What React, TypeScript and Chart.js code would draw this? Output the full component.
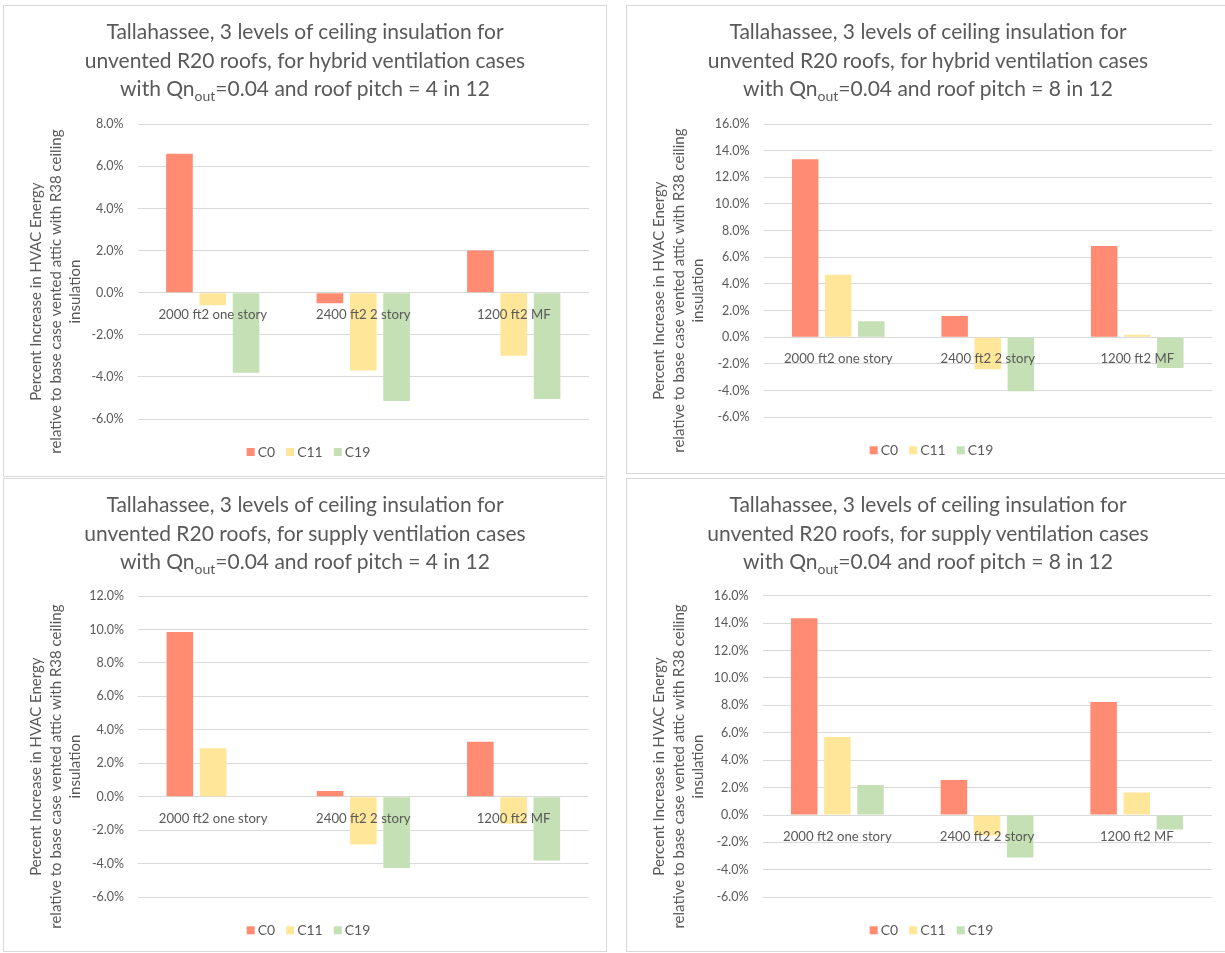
import React, { useEffect, useRef } from "react";
import { Chart, registerables } from "chart.js";

Chart.register(...registerables);

// ---------------- DATA ----------------
const categories = ["2000 ft2 one story", "2400 ft2 2 story", "1200 ft2 MF"];
const seriesNames = ["C0", "C11", "C19"];
const seriesColors = ["#FF8B73", "#FFE699", "#C5E0B4"];

// values in percent
const hybrid4C0 = [6.6, -0.5, 2.0];
const hybrid4C11 = [-0.6, -3.7, -3.0];
const hybrid4C19 = [-3.8, -5.15, -5.05];

const hybrid8C0 = [13.35, 1.6, 6.85];
const hybrid8C11 = [4.7, -2.4, 0.2];
const hybrid8C19 = [1.2, -4.05, -2.3];

const supply4C0 = [9.85, 0.35, 3.3];
const supply4C11 = [2.9, -2.85, -1.6];
const supply4C19 = [0.0, -4.25, -3.8];

const supply8C0 = [14.35, 2.55, 8.25];
const supply8C11 = [5.7, -1.5, 1.65];
const supply8C19 = [2.2, -3.1, -1.05];

const yMins = [-6, -6, -6, -6];
const yMaxs = [8, 16, 12, 16];
const yStep = 2;

const titleLine1 = "Tallahassee, 3 levels of ceiling insulation for";
const titleLine2Hybrid = "unvented R20 roofs, for hybrid ventilation cases";
const titleLine2Supply = "unvented R20 roofs, for supply ventilation cases";
const titleLine3Start = "with Qn";
const titleLine3Sub = "out";
const titleLine3Pitch4 = "=0.04 and roof pitch = 4 in 12";
const titleLine3Pitch8 = "=0.04 and roof pitch = 8 in 12";

const yTitleLines = [
  "Percent Increase in HVAC Energy",
  "relative to base case vented attic with R38 ceiling",
  "insulation",
];

// ---------------- STYLE / LAYOUT ----------------
const TEXT = "#595959";
const GRID = "#D9D9D9";
const FONT = "Lato, 'Open Sans', sans-serif";

type PanelCfg = {
  left: number;
  top: number;
  width: number;
  height: number;
  chartLeft: number;
  padR: number;
  padT: number;
  padB: number;
  line2: string;
  line3: string;
  series: number[][];
  idx: number;
};

const panels: PanelCfg[] = [
  { left: 3, top: 5, width: 604, height: 472, chartLeft: 133.5, padR: 17, padT: 118.3, padB: 57, line2: titleLine2Hybrid, line3: titleLine3Pitch4, series: [hybrid4C0, hybrid4C11, hybrid4C19], idx: 0 },
  { left: 626, top: 5, width: 604, height: 469, chartLeft: 136.5, padR: 17, padT: 118, padB: 55.7, line2: titleLine2Hybrid, line3: titleLine3Pitch8, series: [hybrid8C0, hybrid8C11, hybrid8C19], idx: 1 },
  { left: 3, top: 478, width: 604, height: 474, chartLeft: 134, padR: 17.3, padT: 117, padB: 53.7, line2: titleLine2Supply, line3: titleLine3Pitch4, series: [supply4C0, supply4C11, supply4C19], idx: 2 },
  { left: 626, top: 478, width: 604, height: 474, chartLeft: 135.5, padR: 17.4, padT: 116.7, padB: 53.7, line2: titleLine2Supply, line3: titleLine3Pitch8, series: [supply8C0, supply8C11, supply8C19], idx: 3 },
];

const decorPlugin = {
  id: "excelDecor",
  afterDraw(chart: any) {
    const { ctx, chartArea } = chart;
    ctx.save();
    ctx.fillStyle = TEXT;
    // Y axis title (rotated, 3 lines)
    ctx.font = `15px ${FONT}`;
    ctx.textAlign = "center";
    ctx.textBaseline = "middle";
    const cy = (chartArea.top + chartArea.bottom) / 2 + 20;
    const xs = [32, 52, 71.5];
    yTitleLines.forEach((t, i) => {
      ctx.save();
      ctx.translate(xs[i], cy);
      ctx.rotate(-Math.PI / 2);
      ctx.fillText(t, 0, 0);
      ctx.restore();
    });
    // Legend
    ctx.font = `14px ${FONT}`;
    ctx.textAlign = "left";
    const box = 8;
    const gap = 3;
    const spacing = 11;
    const widths = chart.data.datasets.map((d: any) => box + gap + ctx.measureText(d.label).width);
    const total = widths.reduce((a: number, b: number) => a + b, 0) + spacing * (widths.length - 1);
    let x = chart.width / 2 + 3.5 - total / 2;
    const ly = chartArea.bottom + 33;
    chart.data.datasets.forEach((d: any, i: number) => {
      ctx.fillStyle = d.backgroundColor;
      ctx.fillRect(x, ly - box / 2, box, box);
      ctx.fillStyle = TEXT;
      ctx.fillText(d.label, x + box + gap, ly + 0.5);
      x += widths[i] + spacing;
    });
    ctx.restore();
  },
};

function Panel({ cfg }: { cfg: PanelCfg }) {
  const ref = useRef<HTMLCanvasElement>(null);
  const cw = cfg.width - 2;
  const ch = cfg.height - 2;
  useEffect(() => {
    if (!ref.current) return;
    const chart = new Chart(ref.current, {
      type: "bar",
      data: {
        labels: categories,
        datasets: seriesNames.map((name, i) => ({
          label: name,
          data: cfg.series[i],
          backgroundColor: seriesColors[i],
          borderWidth: 0,
          categoryPercentage: 0.664,
          barPercentage: 0.8,
        })),
      },
      options: {
        animation: false,
        responsive: false,
        devicePixelRatio: 1,
        layout: { padding: { left: 0, right: cfg.padR, top: cfg.padT, bottom: cfg.padB } },
        plugins: {
          legend: { display: false },
          title: { display: false },
          tooltip: { enabled: false },
        },
        scales: {
          x: {
            type: "category",
            position: { y: 0 } as any,
            grid: { display: false, drawTicks: false },
            border: { display: false },
            ticks: {
              color: TEXT,
              font: { family: FONT, size: 13.2 },
              padding: 14,
              z: 1,
              autoSkip: false,
              maxRotation: 0,
            },
          },
          y: {
            min: yMins[cfg.idx],
            max: yMaxs[cfg.idx],
            grid: { color: GRID, lineWidth: 1, drawTicks: false },
            border: { display: false },
            ticks: {
              stepSize: yStep,
              color: TEXT,
              font: { family: FONT, size: 12.5 },
              padding: 14,
              callback: (v: any) => Number(v).toFixed(1) + "%",
            },
            afterFit: (s: any) => {
              s.width = cfg.chartLeft;
            },
          },
        },
      },
      plugins: [decorPlugin],
    });
    (document as any).fonts?.ready?.then(() => chart.update());
    return () => chart.destroy();
  }, []);

  return (
    <div
      style={{
        position: "absolute",
        left: cfg.left,
        top: cfg.top,
        width: cfg.width,
        height: cfg.height,
        boxSizing: "border-box",
        border: `1px solid ${GRID}`,
        background: "#fff",
      }}
    >
      <canvas
        ref={ref}
        width={cw}
        height={ch}
        style={{ position: "absolute", left: 0, top: 0, width: cw, height: ch }}
      />
      <div
        style={{
          position: "absolute",
          left: 0,
          right: 0,
          top: 11,
          textAlign: "center",
          fontFamily: FONT,
          fontSize: 21,
          lineHeight: "28.7px",
          color: TEXT,
          whiteSpace: "nowrap",
        }}
      >
        <div>{titleLine1}</div>
        <div>{cfg.line2}</div>
        <div>
          {titleLine3Start}
          <span style={{ fontSize: 14, lineHeight: 0, position: "relative", top: 5 }}>{titleLine3Sub}</span>
          {cfg.line3}
        </div>
      </div>
    </div>
  );
}

export default function App() {
  useEffect(() => {
    document.body.style.margin = "0";
    document.body.style.overflow = "hidden";
  }, []);
  return (
    <div style={{ position: "relative", width: 1225, height: 953, overflow: "hidden", background: "#fff" }}>
      {panels.map((p) => (
        <Panel key={p.idx} cfg={p} />
      ))}
    </div>
  );
}
